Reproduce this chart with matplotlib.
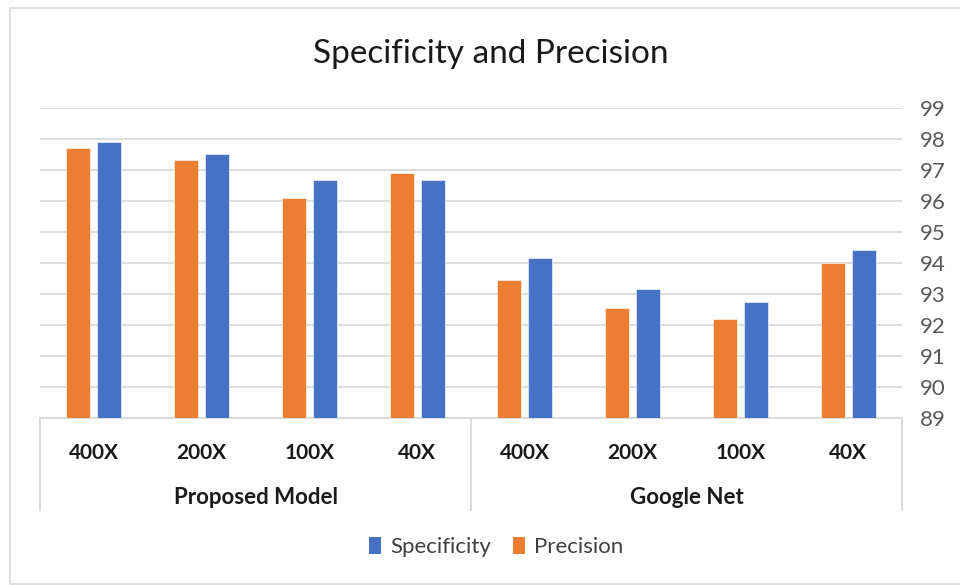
import matplotlib
matplotlib.use("Agg")
import matplotlib.pyplot as plt
from matplotlib.patches import Rectangle, Patch
from matplotlib.lines import Line2D
import numpy as np

# Data
magnifications = ["400X", "200X", "100X", "40X", "400X", "200X", "100X", "40X"]
groups = ["Proposed Model", "Google Net"]
precision = [97.7, 97.3, 96.1, 96.9, 93.45, 92.55, 92.2, 94.0]
specificity = [97.9, 97.5, 96.65, 96.65, 94.15, 93.15, 92.75, 94.4]
y_ticks = list(range(89, 100))

ORANGE = "#ED7D31"
BLUE = "#4472C4"
GRID = "#D9D9D9"
FONT = "Lato"

W, H = 960, 585
fig = plt.figure(figsize=(W / 100, H / 100), dpi=100)

# outer chart border
fig.patches.append(Rectangle((10 / W, 1 - 584 / H), 1.0, (584 - 8) / H,
                             transform=fig.transFigure, fill=False,
                             edgecolor=GRID, linewidth=1.2, zorder=0))

left, right, top, bottom = 40, 902, 107.5, 418
ax = fig.add_axes([left / W, 1 - bottom / H, (right - left) / W, (bottom - top) / H])

x = np.arange(len(magnifications))
bw = 0.223
off = 0.143
ax.bar(x - off, precision, width=bw, bottom=0, color=ORANGE, zorder=3,
       edgecolor="white", linewidth=0.4)
ax.bar(x + off, specificity, width=bw, bottom=0, color=BLUE, zorder=3,
       edgecolor="white", linewidth=0.4)

ax.set_xlim(-0.5, len(magnifications) - 0.5)
ax.set_ylim(89, 99)
ax.set_yticks(y_ticks)
ax.yaxis.tick_right()
ax.grid(axis="y", color=GRID, linewidth=1.3, zorder=0)
ax.set_axisbelow(True)
for s in ["top", "left", "right"]:
    ax.spines[s].set_visible(False)
ax.spines["bottom"].set_color(GRID)
ax.spines["bottom"].set_linewidth(1.3)
ax.tick_params(axis="y", length=0, pad=13, labelsize=16, labelcolor="#595959")
for lbl in ax.get_yticklabels():
    lbl.set_fontfamily(FONT)
    lbl.set_horizontalalignment("left")

ax.set_xticks(x)
ax.set_xticklabels(magnifications, fontfamily=FONT, fontweight="bold",
                   fontsize=15, color="#1a1a1a")
ax.tick_params(axis="x", length=0, pad=18)

# group separators and group labels
sep_bottom = -(510 - bottom) / (bottom - top)
for xs in [-0.5, 3.5, 7.5]:
    ax.add_line(Line2D([xs, xs], [0, sep_bottom], color=GRID, linewidth=1.3,
                       transform=ax.get_xaxis_transform(), clip_on=False))
grp_y = -(497 - bottom) / (bottom - top)
for i, g in enumerate(groups):
    ax.text(1.5 + 4 * i, grp_y, g, transform=ax.get_xaxis_transform(),
            ha="center", va="center", fontfamily=FONT, fontweight="bold",
            fontsize=16, color="#1a1a1a")

fig.text(491 / W, 1 - 54 / H, "Specificity and Precision", ha="center",
         va="center", fontfamily=FONT, fontsize=24, color="#1a1a1a")

handles = [Patch(facecolor=BLUE, label="Specificity"),
           Patch(facecolor=ORANGE, label="Precision")]
leg = fig.legend(handles=handles, loc="center", ncol=2, frameon=False,
                 bbox_to_anchor=(496 / W, 1 - 547 / H),
                 handlelength=0.55, handleheight=0.8, handletextpad=0.4,
                 columnspacing=1.0,
                 prop={"family": FONT, "size": 16})
for t in leg.get_texts():
    t.set_color("#404040")

fig.savefig("out.png", dpi=100)
